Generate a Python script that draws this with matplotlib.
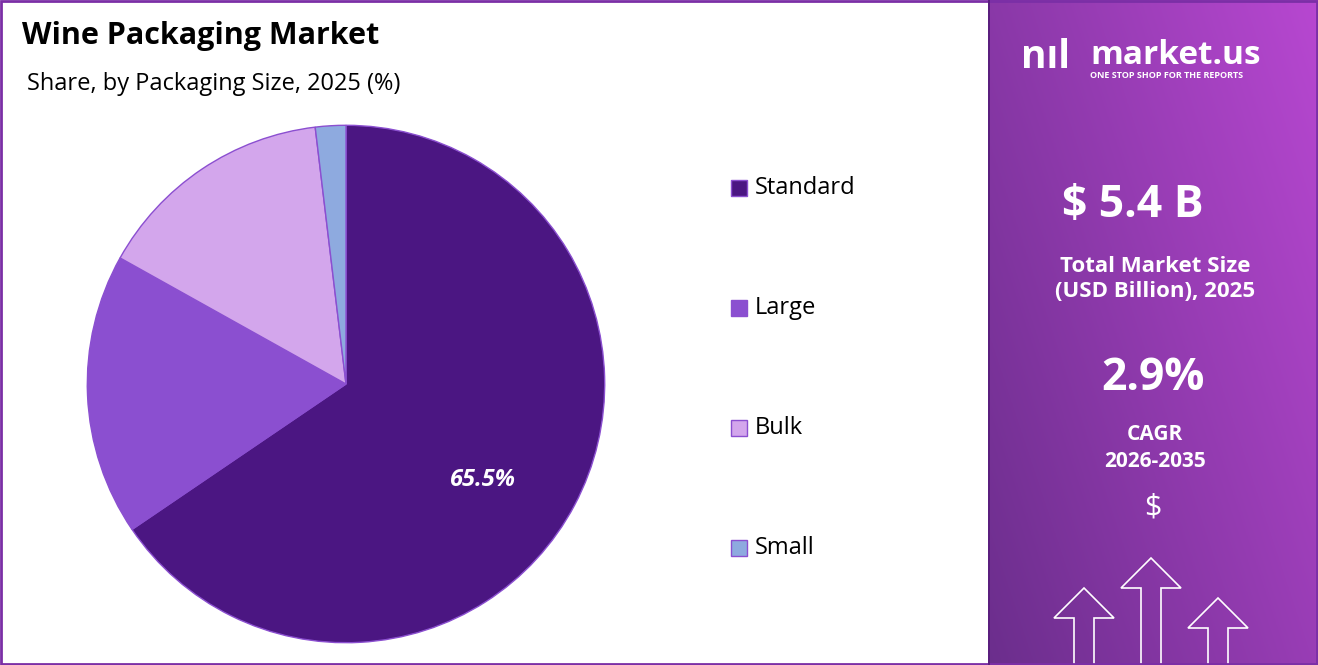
import matplotlib.pyplot as plt
import numpy as np
from matplotlib.patches import Rectangle, Polygon

plt.rcParams['font.family'] = ['Open Sans', 'DejaVu Sans']

categories = ['Standard', 'Large', 'Bulk', 'Small']
shares = [65.5, 17.6, 15.0, 1.9]
colors = ['#4B1682', '#8B4FD0', '#D3A6EC', '#8EAADF']

W, H = 1318, 665
fig = plt.figure(figsize=(W / 100, H / 100), dpi=100)

# pie
ax = fig.add_axes([(346 - 260) / W, (281 - 260) / H, 520 / W, 520 / H])
wedges, _ = ax.pie(shares, colors=colors, startangle=90, counterclock=False,
                   wedgeprops=dict(edgecolor='#8B4FD0', linewidth=1))
ax.set_xlim(-1.005, 1.005)
ax.set_ylim(-1.005, 1.005)
ax.set_aspect('equal')
ax.text(0.53, -0.37, f'{shares[0]}%', color='white', fontsize=17, fontweight='bold',
        style='italic', ha='center', va='center')

# titles
fig.text(22 / W, 1 - 36 / H, 'Wine Packaging Market', fontsize=22, fontweight='bold', va='center')
fig.text(27 / W, 1 - 84 / H, 'Share, by Packaging Size, 2025 (%)', fontsize=17, va='center')

# legend
for i, c in enumerate(categories):
    y = 1 - (188 + i * 120) / H
    fig.patches.append(Rectangle((731 / W, y - 8 / H), 16 / W, 16 / H, transform=fig.transFigure,
                                 facecolor=colors[i], edgecolor='#8B4FD0', lw=1))
    fig.text(755 / W, y, c, fontsize=17, va='center')

# right panel gradient
pax = fig.add_axes([988 / W, 0, (W - 988) / W, 1])
gx = np.linspace(0, 1, 200)
gy = np.linspace(0, 1, 200)
X, Y = np.meshgrid(gx, gy)
c1 = np.array([0.42, 0.18, 0.55])
c2 = np.array([0.72, 0.28, 0.82])
t = (0.6 * X + 0.4 * (1 - Y))[..., None]
pax.imshow(c1 * (1 - t) + c2 * t, extent=[0, 1, 0, 1], aspect='auto', origin='upper')
pax.set_xlim(0, 1)
pax.set_ylim(0, 1)
pax.axis('off')

def px(x, y):
    return ((x - 988) / (W - 988), 1 - y / H)

pax.text(*px(1090, 56), 'market.us', color='white', fontsize=24, fontweight='bold', va='center')
pax.text(*px(1090, 76), 'ONE STOP SHOP FOR THE REPORTS', color='white', fontsize=6.5,
         fontweight='bold', va='center')
pax.text(*px(1045, 58), 'nıl', color='white', fontsize=28, fontweight='bold', ha='center', va='center')
pax.text(*px(1133, 205), '$ 5.4 B', color='white', fontsize=32, fontweight='bold', ha='center', va='center')
pax.text(*px(1155, 279), 'Total Market Size\n(USD Billion), 2025', color='white', fontsize=16,
         fontweight='bold', ha='center', va='center', linespacing=1.2)
pax.text(*px(1153, 378), '2.9%', color='white', fontsize=32, fontweight='bold', ha='center', va='center')
pax.text(*px(1155, 448), 'CAGR\n2026-2035', color='white', fontsize=15, fontweight='bold',
         ha='center', va='center', linespacing=1.4)
pax.text(*px(1153, 508), '$', color='white', fontsize=22, ha='center', va='center')

for cx, top, w in [(1084, 588, 60), (1151, 558, 60), (1218, 598, 60)]:
    hw = w / 2
    pts = [px(cx - hw / 3, 665), px(cx - hw / 3, top + hw), px(cx - hw, top + hw), px(cx, top),
           px(cx + hw, top + hw), px(cx + hw / 3, top + hw), px(cx + hw / 3, 665)]
    pax.add_patch(Polygon(pts, closed=False, fill=False, edgecolor='white', lw=1.2))

# borders
fig.patches.append(Rectangle((0.001, 0.001), 0.998, 0.997, transform=fig.transFigure,
                             fill=False, edgecolor='#7B2FA6', lw=2))
fig.patches.append(Rectangle((988 / W, 0), 2 / W, 1, transform=fig.transFigure,
                             facecolor='#5A1E7E', edgecolor='none'))

fig.savefig('out.png', dpi=100)
